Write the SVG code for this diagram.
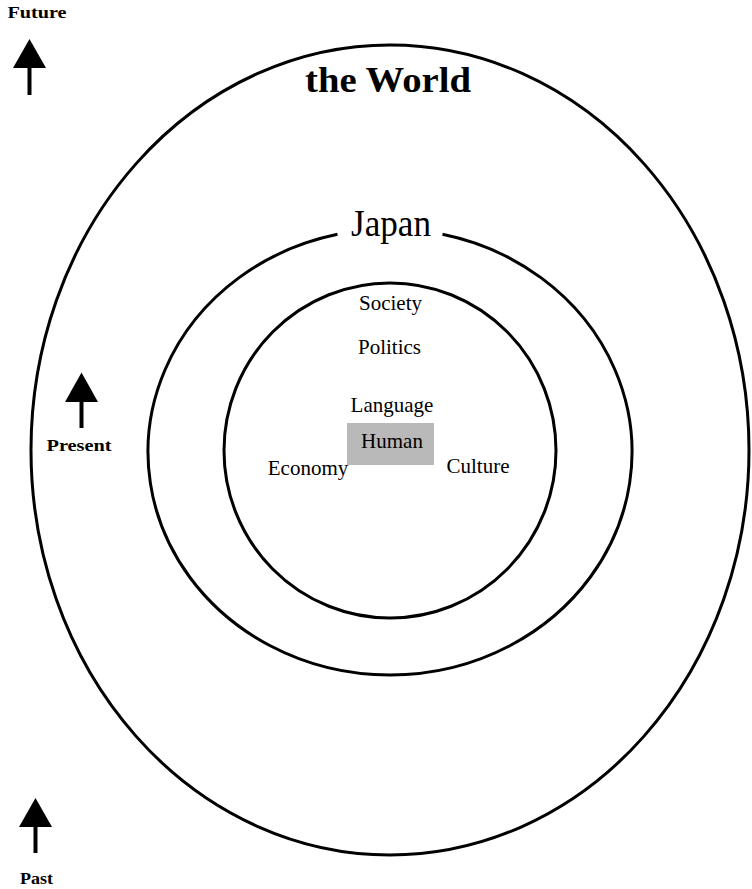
<svg xmlns="http://www.w3.org/2000/svg" width="752" height="889" viewBox="0 0 752 889">
  <style>
    .ring { fill: none; stroke: #000; stroke-width: 3; }
    .lbl { font-family: "Liberation Serif", "Times New Roman", serif; fill: #000; text-anchor: middle; }
    .axis { font-family: "Liberation Serif", "Times New Roman", serif; font-weight: bold; font-size: 16px; fill: #000; text-anchor: middle; }
    .item { font-size: 21px; }
    .arrow { fill: #000; stroke: none; }
    .shaft { stroke: #000; stroke-width: 4; }
  </style>
  <rect x="0" y="0" width="752" height="889" fill="#fff"/>

  <g id="world">
    <ellipse class="ring" cx="390" cy="450" rx="359" ry="405"/>
    <text class="lbl" x="388" y="92" font-size="36" font-weight="bold" textLength="166" lengthAdjust="spacingAndGlyphs">the World</text>
  </g>

  <g id="japan">
    <path class="ring" d="M 442.5 234.3 A 242 223 0 1 1 337.5 234.3"/>
    <text class="lbl" x="391" y="236" font-size="38" textLength="80" lengthAdjust="spacingAndGlyphs">Japan</text>
  </g>

  <g id="core">
    <ellipse class="ring" cx="390" cy="450.5" rx="166" ry="167.5"/>
  </g>

  <g id="society"><text class="lbl item" x="390.5" y="310">Society</text></g>
  <g id="politics"><text class="lbl item" x="389.5" y="354">Politics</text></g>
  <g id="language"><text class="lbl item" x="392" y="412">Language</text></g>
  <g id="human">
    <rect x="347" y="423" width="87" height="42" fill="#b9b9b9"/>
    <text class="lbl item" x="392" y="448">Human</text>
  </g>
  <g id="economy"><text class="lbl item" x="308" y="475">Economy</text></g>
  <g id="culture"><text class="lbl item" x="478" y="473">Culture</text></g>

  <g id="future">
    <text class="axis" x="37" y="18" textLength="59" lengthAdjust="spacingAndGlyphs">Future</text>
    <polygon class="arrow" points="29.5,39 13,68 46,68"/>
    <line class="shaft" x1="29.5" y1="66" x2="29.5" y2="95"/>
  </g>

  <g id="present">
    <polygon class="arrow" points="81.5,372.5 65,402 98,402"/>
    <line class="shaft" x1="81.5" y1="400" x2="81.5" y2="428"/>
    <text class="axis" x="79" y="451" textLength="65" lengthAdjust="spacingAndGlyphs">Present</text>
  </g>

  <g id="past">
    <polygon class="arrow" points="35.5,798 19,827 52,827"/>
    <line class="shaft" x1="35.5" y1="825" x2="35.5" y2="853"/>
    <text class="axis" x="36.5" y="884" textLength="33" lengthAdjust="spacingAndGlyphs">Past</text>
  </g>

  <g id="connectors"></g>
</svg>
